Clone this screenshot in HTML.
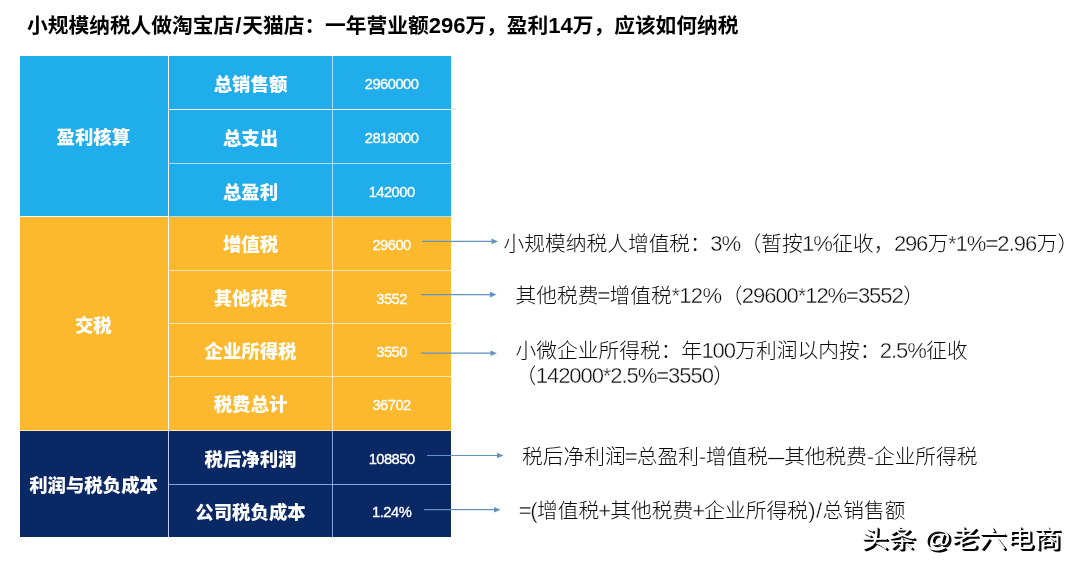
<!DOCTYPE html>
<html lang="zh-CN">
<head>
<meta charset="utf-8">
<title>小规模纳税人纳税</title>
<style>
html,body{margin:0;padding:0;background:#fff;}
body{width:1080px;height:571px;position:relative;overflow:hidden;font-family:"Liberation Sans","Noto Sans CJK SC",sans-serif;color:#000;}
.abs{position:absolute;white-space:nowrap;}
.title{font-size:20.73px;font-weight:700;line-height:30px;color:#000;}
.note{font-size:20.73px;font-weight:300;line-height:30px;color:#0c0c0c;}
.l{display:inline-block;}
.note .l{-webkit-text-stroke:0.38px #fff;}
.c{position:absolute;display:flex;align-items:center;justify-content:center;color:#fff;white-space:nowrap;box-sizing:border-box;}
.blue{background:#20adec;}
.yel{background:#fdb92e;}
.navy{background:#0a2863;}
.lab{font-weight:900;font-size:18.4px;padding-top:1px;}
.num{font-weight:400;font-size:13.8px;padding-top:3px;-webkit-text-stroke:0.35px #fff;}
.ln{position:absolute;background:rgba(255,255,255,0.62);}
.lnn{background:rgba(165,195,255,0.8);}
svg.arrows{position:absolute;left:0;top:0;}
.wm{font-size:24px;font-weight:400;color:#fff;text-shadow:1px 1px 0 #000,2px 2px 0 #000;transform-origin:0 0;transform:scaleX(1.145);}
</style>
</head>
<body>
<div class="abs title" style="left:27.0px;top:11.41px;">小规模纳税人做淘宝店<span class="l" style="letter-spacing:0.0856em;margin-left:0.0428em;margin-right:-0.0428em;font-size:106.5%;">/</span>天猫店：一年营业额<span class="l" style="letter-spacing:-0.0022em;margin-left:-0.0011em;margin-right:0.0011em;font-size:106.5%;">296</span>万，盈利<span class="l" style="letter-spacing:-0.0022em;margin-left:-0.0011em;margin-right:0.0011em;font-size:106.5%;">14</span>万，应该如何纳税</div>
<div class="c blue lab" style="left:19.80px;top:56.20px;width:148.70px;height:160.30px;"><span style="position:relative;top:-0.8px;left:-0.8px">盈利核算</span></div>
<div class="c yel lab" style="left:19.80px;top:216.50px;width:148.70px;height:214.00px;"><span style="position:relative;top:0.0px;left:-0.8px">交税</span></div>
<div class="c navy lab" style="left:19.80px;top:430.50px;width:148.70px;height:106.10px;"><span style="position:relative;top:0.0px;left:-0.6px">利润与税负成本</span></div>
<div class="c blue lab" style="left:168.50px;top:56.20px;width:164.00px;height:53.30px;">总销售额</div>
<div class="c blue num" style="left:332.50px;top:56.20px;width:118.70px;height:53.30px;"><span class="l" style="letter-spacing:-0.0351em;margin-left:-0.0175em;margin-right:0.0175em;font-size:106.5%;">2960000</span></div>
<div class="c blue lab" style="left:168.50px;top:109.50px;width:164.00px;height:54.00px;">总支出</div>
<div class="c blue num" style="left:332.50px;top:109.50px;width:118.70px;height:54.00px;"><span class="l" style="letter-spacing:-0.0351em;margin-left:-0.0175em;margin-right:0.0175em;font-size:106.5%;">2818000</span></div>
<div class="c blue lab" style="left:168.50px;top:163.50px;width:164.00px;height:53.00px;">总盈利</div>
<div class="c blue num" style="left:332.50px;top:163.50px;width:118.70px;height:53.00px;"><span class="l" style="letter-spacing:-0.0351em;margin-left:-0.0175em;margin-right:0.0175em;font-size:106.5%;">142000</span></div>
<div class="c yel lab" style="left:168.50px;top:216.50px;width:164.00px;height:54.00px;"><span style="position:relative;top:-1.0px;left:0.0px">增值税</span></div>
<div class="c yel num" style="left:332.50px;top:216.50px;width:118.70px;height:54.00px;"><span class="l" style="letter-spacing:-0.0351em;margin-left:-0.0175em;margin-right:0.0175em;font-size:106.5%;">29600</span></div>
<div class="c yel lab" style="left:168.50px;top:270.50px;width:164.00px;height:53.00px;"><span style="position:relative;top:-1.0px;left:0.0px">其他税费</span></div>
<div class="c yel num" style="left:332.50px;top:270.50px;width:118.70px;height:53.00px;"><span class="l" style="letter-spacing:-0.0351em;margin-left:-0.0175em;margin-right:0.0175em;font-size:106.5%;">3552</span></div>
<div class="c yel lab" style="left:168.50px;top:323.50px;width:164.00px;height:53.00px;"><span style="position:relative;top:-1.0px;left:0.0px">企业所得税</span></div>
<div class="c yel num" style="left:332.50px;top:323.50px;width:118.70px;height:53.00px;"><span class="l" style="letter-spacing:-0.0351em;margin-left:-0.0175em;margin-right:0.0175em;font-size:106.5%;">3550</span></div>
<div class="c yel lab" style="left:168.50px;top:376.50px;width:164.00px;height:54.00px;"><span style="position:relative;top:-1.0px;left:0.0px">税费总计</span></div>
<div class="c yel num" style="left:332.50px;top:376.50px;width:118.70px;height:54.00px;"><span class="l" style="letter-spacing:-0.0351em;margin-left:-0.0175em;margin-right:0.0175em;font-size:106.5%;">36702</span></div>
<div class="c navy lab" style="left:168.50px;top:430.50px;width:164.00px;height:54.00px;">税后净利润</div>
<div class="c navy num" style="left:332.50px;top:430.50px;width:118.70px;height:54.00px;"><span class="l" style="letter-spacing:-0.0351em;margin-left:-0.0175em;margin-right:0.0175em;font-size:106.5%;">108850</span></div>
<div class="c navy lab" style="left:168.50px;top:484.50px;width:164.00px;height:52.10px;">公司税负成本</div>
<div class="c navy num" style="left:332.50px;top:484.50px;width:118.70px;height:52.10px;"><span class="l" style="letter-spacing:-0.0293em;margin-left:-0.0146em;margin-right:0.0146em;font-size:106.5%;">1.24%</span></div>
<div class="ln" style="left:168.5px;top:109px;width:282.7px;height:1px;"></div>
<div class="ln" style="left:168.5px;top:163px;width:282.7px;height:1px;"></div>
<div class="ln" style="left:19.8px;top:216px;width:431.4px;height:1px;"></div>
<div class="ln" style="left:168.5px;top:270px;width:282.7px;height:1px;"></div>
<div class="ln" style="left:168.5px;top:323px;width:282.7px;height:1px;"></div>
<div class="ln" style="left:168.5px;top:376px;width:282.7px;height:1px;"></div>
<div class="ln" style="left:19.8px;top:430px;width:431.4px;height:1px;"></div>
<div class="ln lnn" style="left:168.5px;top:484px;width:282.7px;height:1px;"></div>
<div class="ln" style="left:168px;top:56.2px;width:1px;height:374.3px;"></div>
<div class="ln" style="left:332px;top:56.2px;width:1px;height:374.3px;"></div>
<div class="ln lnn" style="left:168px;top:430.5px;width:1px;height:106.1px;"></div>
<div class="ln lnn" style="left:332px;top:430.5px;width:1px;height:106.1px;"></div>
<svg class="arrows" width="1080" height="571" viewBox="0 0 1080 571"><g stroke="#6092c4" stroke-width="1.2" fill="#6092c4">
<line x1="422.0" y1="241.4" x2="492.0" y2="241.4"/><path d="M498.0 241.4 l-6.5 -2.8 v5.6 Z" stroke="none"/>
<line x1="421.0" y1="294.6" x2="490.5" y2="294.6"/><path d="M496.5 294.6 l-6.5 -2.8 v5.6 Z" stroke="none"/>
<line x1="421.0" y1="353.2" x2="491.0" y2="353.2"/><path d="M497.0 353.2 l-6.5 -2.8 v5.6 Z" stroke="none"/>
<line x1="427.0" y1="455.5" x2="497.5" y2="455.5"/><path d="M503.5 455.5 l-6.5 -2.8 v5.6 Z" stroke="none"/>
<line x1="424.0" y1="509.7" x2="494.5" y2="509.7"/><path d="M500.5 509.7 l-6.5 -2.8 v5.6 Z" stroke="none"/>
</g></svg>
<div class="abs note" style="left:503.6px;top:228.81px;">小规模纳税人增值税：<span class="l" style="letter-spacing:-0.0504em;margin-left:-0.0252em;margin-right:0.0252em;font-size:106.5%;">3%</span>（暂按<span class="l" style="letter-spacing:-0.0504em;margin-left:-0.0252em;margin-right:0.0252em;font-size:106.5%;">1%</span>征收，<span class="l" style="letter-spacing:-0.0539em;margin-left:-0.0269em;margin-right:0.0269em;font-size:106.5%;">296</span>万<span class="l" style="letter-spacing:-0.0450em;margin-left:-0.0225em;margin-right:0.0225em;font-size:106.5%;">*1%=2.96</span>万）</div>
<div class="abs note" style="left:515.6px;top:281.21px;">其他税费<span class="l" style="letter-spacing:-0.0817em;margin-left:-0.0408em;margin-right:0.0408em;font-size:106.5%;">=</span>增值税<span class="l" style="letter-spacing:-0.0320em;margin-left:-0.0160em;margin-right:0.0160em;font-size:106.5%;">*12%</span>（<span class="l" style="letter-spacing:-0.0496em;margin-left:-0.0248em;margin-right:0.0248em;font-size:106.5%;">29600*12%=3552</span>）</div>
<div class="abs note" style="left:515.6px;top:336.21px;">小微企业所得税：年<span class="l" style="letter-spacing:-0.0539em;margin-left:-0.0269em;margin-right:0.0269em;font-size:106.5%;">100</span>万利润以内按：<span class="l" style="letter-spacing:-0.0494em;margin-left:-0.0247em;margin-right:0.0247em;font-size:106.5%;">2.5%</span>征收</div>
<div class="abs note" style="left:515.6px;top:360.61px;">（<span class="l" style="letter-spacing:-0.0494em;margin-left:-0.0247em;margin-right:0.0247em;font-size:106.5%;">142000*2.5%=3550</span>）</div>
<div class="abs note" style="left:522.0px;top:441.81px;">税后净利润<span class="l" style="letter-spacing:-0.0817em;margin-left:-0.0408em;margin-right:0.0408em;font-size:106.5%;">=</span>总盈利<span class="l" style="letter-spacing:-0.0203em;margin-left:-0.0102em;margin-right:0.0102em;font-size:106.5%;">-</span>增值税<span class="l" style="transform:scaleX(0.78);transform-origin:0 50%;margin-right:-0.22em;">—</span>其他税费<span class="l" style="letter-spacing:-0.0203em;margin-left:-0.0102em;margin-right:0.0102em;font-size:106.5%;">-</span>企业所得税</div>
<div class="abs note" style="left:519.4px;top:495.81px;"><span class="l" style="letter-spacing:-0.0594em;margin-left:-0.0297em;margin-right:0.0297em;font-size:106.5%;">=(</span>增值税<span class="l" style="letter-spacing:-0.0817em;margin-left:-0.0408em;margin-right:0.0408em;font-size:106.5%;">+</span>其他税费<span class="l" style="letter-spacing:-0.0817em;margin-left:-0.0408em;margin-right:0.0408em;font-size:106.5%;">+</span>企业所得税<span class="l" style="letter-spacing:0.0275em;margin-left:0.0137em;margin-right:-0.0137em;font-size:106.5%;">)/</span>总销售额</div>
<div class="abs wm" style="left:861.2px;top:520.8px;line-height:36px;">头条 @老六电商</div>
</body>
</html>
